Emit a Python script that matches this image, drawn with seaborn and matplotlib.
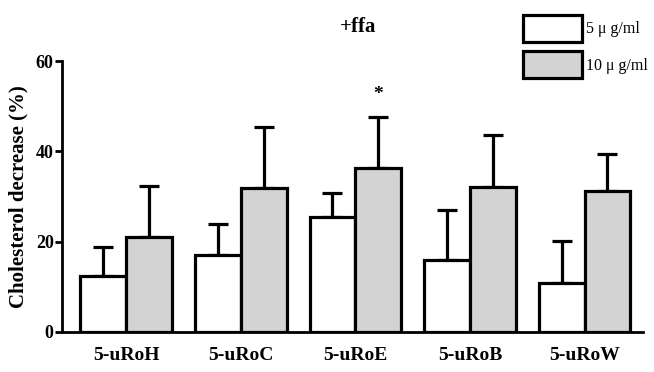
import matplotlib
matplotlib.use("Agg")
import matplotlib.pyplot as plt
import numpy as np
import pandas as pd
import seaborn as sns

# Cholesterol decrease per strain at two extract concentrations (+ffa)
strains = ["5-uRoH", "5-uRoC", "5-uRoE", "5-uRoB", "5-uRoW"]
doses = ["5 \u03bc g/ml", "10 \u03bc g/ml"]
mean_5 = [12.5, 17.1, 25.4, 15.9, 10.9]
err_5 = [6.3, 6.8, 5.4, 11.2, 9.3]
mean_10 = [21.1, 31.9, 36.3, 32.1, 31.3]
err_10 = [11.2, 13.5, 11.3, 11.5, 8.1]
y_ticks = [0, 20, 40, 60]
significant = [("5-uRoE", 1)]  # (strain, dose index) marked with *

sns.set_style("ticks")
plt.rcParams["font.family"] = ["Liberation Serif", "DejaVu Serif"]
for key in ("text.color", "axes.labelcolor", "xtick.color", "ytick.color",
            "axes.edgecolor"):
    plt.rcParams[key] = "black"

df = pd.DataFrame({
    "strain": strains * 2,
    "dose": [doses[0]] * len(strains) + [doses[1]] * len(strains),
    "value": mean_5 + mean_10,
})

fig = plt.figure(figsize=(6.54, 3.72), dpi=100)
ax = fig.add_axes([62 / 654, 40 / 372, (643 - 62) / 654, (332 - 61) / 372])

lw = 2.3
sns.barplot(data=df, x="strain", y="value", hue="dose", order=strains,
            hue_order=doses, palette=["white", "#d3d3d3"], edgecolor="black",
            linewidth=lw, width=0.8, errorbar=None, ax=ax, zorder=2)

bar_groups = [list(c.patches) for c in ax.containers]
means = [mean_5, mean_10]
errs = [err_5, err_10]
for k, patches in enumerate(bar_groups):
    xs = [p.get_x() + p.get_width() / 2 for p in patches]
    ax.errorbar(xs, means[k], yerr=[np.zeros(len(xs)), errs[k]], fmt="none",
                ecolor="black", elinewidth=lw, capsize=7, capthick=lw, zorder=1)

for name, k in significant:
    i = strains.index(name)
    p = bar_groups[k][i]
    ax.text(p.get_x() + p.get_width() / 2, means[k][i] + errs[k][i] + 3, "*",
            ha="center", va="bottom", fontsize=14, fontweight="bold")

ax.set_ylim(0, 60)
ax.set_xlim(-0.56, 4.51)
ax.set_yticks(y_ticks)
ax.set_yticklabels([str(t) for t in y_ticks], fontsize=13, fontweight="bold")
ax.set_xticks(range(len(strains)))
ax.set_xticklabels(strains, fontsize=14, fontweight="bold")
ax.tick_params(axis="x", length=0, pad=11)
ax.tick_params(axis="y", length=5, width=2, pad=1, direction="out")
ax.set_xlabel("")
ax.set_ylabel("Cholesterol decrease (%)", fontsize=15, fontweight="bold", labelpad=5)
sns.despine(ax=ax)
for s in ("left", "bottom"):
    ax.spines[s].set_linewidth(2)

fig.text(358 / 654, 1 - 27 / 372, "+ffa", ha="center", va="center",
         fontsize=15, fontweight="bold")

leg = ax.legend(loc="upper left", bbox_to_anchor=(523 / 654, 1 - 15 / 372),
                bbox_transform=fig.transFigure, frameon=False, fontsize=11.5,
                handlelength=3.7, handleheight=2.2, labelspacing=0.6,
                handletextpad=0.25, borderpad=0, borderaxespad=0)

fig.savefig("out.png", dpi=100)
